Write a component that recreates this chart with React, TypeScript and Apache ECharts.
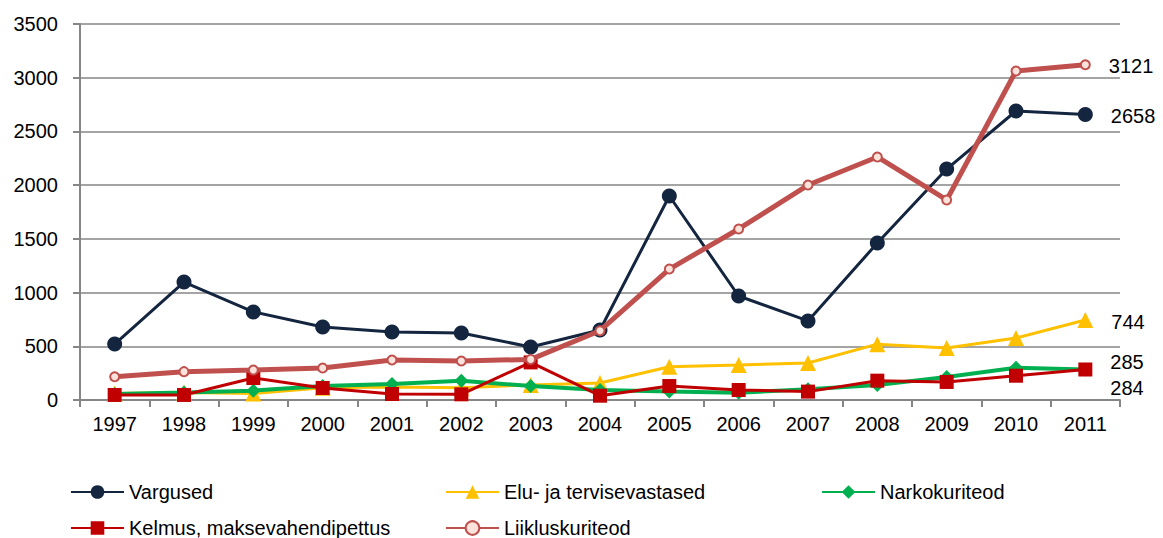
import React, { useEffect, useRef } from "react";
import * as echarts from "echarts";

const years = ["1997","1998","1999","2000","2001","2002","2003","2004","2005","2006","2007","2008","2009","2010","2011"];
const vargused = [521, 1098, 820, 680, 633, 624, 494, 652, 1899, 968, 736, 1461, 2150, 2690, 2658];
const elu = [60, 70, 60, 115, 120, 115, 140, 158, 310, 326, 344, 520, 484, 577, 744];
const narko = [55, 70, 87, 130, 150, 180, 130, 93, 78, 68, 100, 140, 215, 300, 285];
const kelmus = [47, 47, 205, 112, 56, 53, 350, 40, 130, 93, 78, 180, 168, 226, 284];
const liiklus = [217, 264, 279, 298, 372, 363, 378, 645, 1219, 1592, 2001, 2262, 1862, 3062, 3121];

const FONT = "Liberation Sans";

function withEndLabel(arr: number[], offset: number[]) {
  return arr.map((v, i) =>
    i === arr.length - 1
      ? {
          value: v,
          label: {
            show: true,
            position: "right",
            distance: 18,
            offset,
            formatter: "{c}",
            color: "#000",
            fontSize: 20,
            fontFamily: FONT,
          },
        }
      : v
  );
}

export default function App() {
  const ref = useRef<HTMLDivElement>(null);
  useEffect(() => {
    if (!ref.current) return;
    const chart = echarts.init(ref.current, undefined, { renderer: "svg" });
    const legendBase = {
      orient: "horizontal",
      itemWidth: 53,
      itemHeight: 17,
      textStyle: { fontSize: 20, fontFamily: FONT, color: "#000" },
      padding: 0,
    };
    chart.setOption({
      animation: false,
      textStyle: { fontFamily: FONT },
      grid: { left: 80, right: 43, top: 24, bottom: 138 },
      legend: [
        { ...legendBase, data: ["Vargused"], left: 70, top: 482 },
        { ...legendBase, data: ["Elu- ja tervisevastased"], left: 445, top: 482 },
        { ...legendBase, data: ["Narkokuriteod"], left: 821, top: 482 },
        { ...legendBase, data: ["Kelmus, maksevahendipettus"], left: 70, top: 518 },
        { ...legendBase, data: ["Liikluskuriteod"], left: 445, top: 518 },
      ],
      xAxis: {
        type: "category",
        data: years,
        boundaryGap: true,
        axisLine: { lineStyle: { color: "#868686", width: 2 } },
        axisTick: { show: true, length: 7, lineStyle: { color: "#868686", width: 2 } },
        axisLabel: { color: "#000", fontSize: 20, fontFamily: FONT, margin: 14 },
        splitLine: { show: false },
      },
      yAxis: {
        type: "value",
        min: 0,
        max: 3500,
        interval: 500,
        axisLine: { show: true, lineStyle: { color: "#868686", width: 2 } },
        axisTick: { show: true, length: 7, lineStyle: { color: "#868686", width: 2 } },
        axisLabel: {
          color: "#000",
          fontSize: 20,
          fontFamily: FONT,
          margin: 22,
          formatter: (v: number) => String(v),
        },
        splitLine: { show: true, lineStyle: { color: "#868686", width: 1.5 } },
      },
      series: [
        {
          name: "Vargused",
          type: "line",
          z: 2,
          data: withEndLabel(vargused, [0, 2]),
          symbol: "circle",
          symbolSize: 15,
          itemStyle: { color: "#14253F" },
          lineStyle: { color: "#14253F", width: 3 },
        },
        {
          name: "Elu- ja tervisevastased",
          type: "line",
          z: 3,
          data: withEndLabel(elu, [0, 2]),
          symbol: "triangle",
          symbolSize: 16,
          itemStyle: { color: "#FFC000" },
          lineStyle: { color: "#FFC000", width: 3 },
        },
        {
          name: "Narkokuriteod",
          type: "line",
          z: 4,
          data: withEndLabel(narko, [0, -7]),
          symbol: "diamond",
          symbolSize: 14,
          itemStyle: { color: "#00B050" },
          lineStyle: { color: "#00B050", width: 4 },
        },
        {
          name: "Kelmus, maksevahendipettus",
          type: "line",
          z: 5,
          data: withEndLabel(kelmus, [0, 19]),
          symbol: "rect",
          symbolSize: 14,
          itemStyle: { color: "#C00000" },
          lineStyle: { color: "#C00000", width: 3 },
        },
        {
          name: "Liikluskuriteod",
          type: "line",
          z: 6,
          data: withEndLabel(liiklus, [0, 1]),
          symbol: "circle",
          symbolSize: 9,
          itemStyle: { color: "#FBE3DC", borderColor: "#C0504D", borderWidth: 2 },
          lineStyle: { color: "#C0504D", width: 5 },
        },
      ],
    });
    return () => chart.dispose();
  }, []);
  return <div ref={ref} style={{ width: 1163, height: 538, position: "absolute", left: 0, top: 0 }} />;
}
